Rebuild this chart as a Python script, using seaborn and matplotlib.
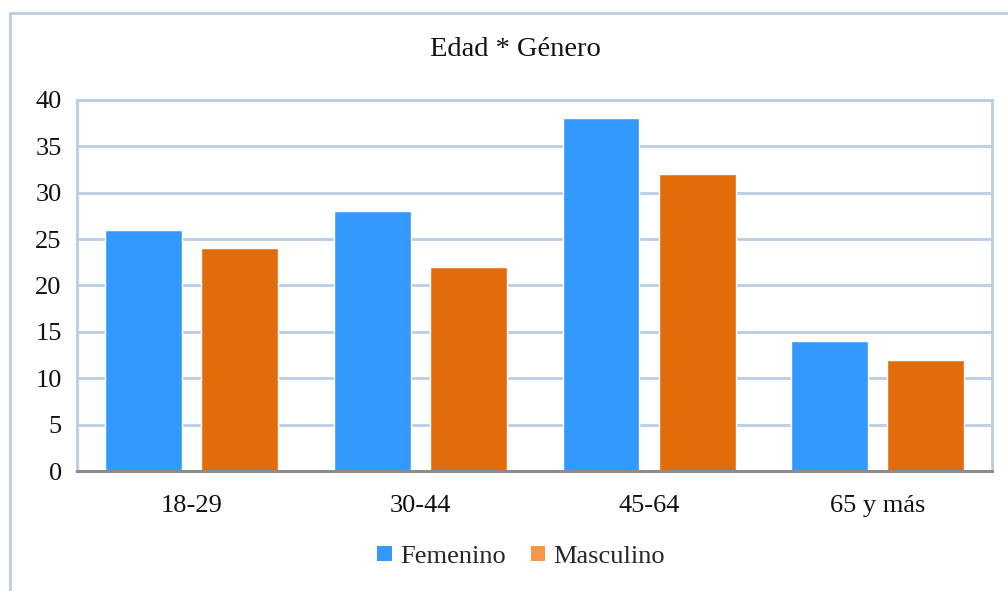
import matplotlib
matplotlib.use("Agg")
import matplotlib.pyplot as plt
import matplotlib.patches as mpatches
import seaborn as sns
import pandas as pd

# Data
grupos_edad = ["18-29", "30-44", "45-64", "65 y más"]
femenino = [26, 28, 38, 14]
masculino = [24, 22, 32, 12]
generos = ["Femenino", "Masculino"]

df = pd.DataFrame({
    "Edad": grupos_edad * 2,
    "Valor": femenino + masculino,
    "Género": [generos[0]] * len(grupos_edad) + [generos[1]] * len(grupos_edad),
})

sns.set_theme(style="white")
plt.rcParams["font.family"] = ["Liberation Serif", "DejaVu Serif"]

azul = "#3399FF"
naranja = "#E36C0A"
naranja_leyenda = "#F79646"
borde = "#B9CDE5"

fig = plt.figure(figsize=(10.08, 5.91), dpi=100)
ax = fig.add_axes([0.0764, 0.203, 0.908, 0.628])

sns.barplot(data=df, x="Edad", y="Valor", hue="Género", order=grupos_edad,
            hue_order=generos, palette=[azul, naranja], width=0.84, gap=0.2,
            saturation=1, legend=False, ax=ax, zorder=3)

ax.set_ylim(0, 40)
ax.set_yticks(range(0, 41, 5))
ax.set_xlim(-0.5, len(grupos_edad) - 0.5)
ax.set_xlabel("")
ax.set_ylabel("")
ax.yaxis.grid(True, color=borde, linewidth=2, zorder=0)
ax.set_axisbelow(True)
ax.tick_params(axis="both", length=0, labelsize=19, colors="#111111")
ax.tick_params(axis="x", pad=17)
ax.tick_params(axis="y", pad=11)

for s in ["left", "top", "right"]:
    ax.spines[s].set_color(borde)
    ax.spines[s].set_linewidth(2)
ax.spines["bottom"].set_color("#8C8C8C")
ax.spines["bottom"].set_linewidth(2.2)
ax.spines["bottom"].set_zorder(4)

fig.text(515 / 1008, 1 - 50 / 591, "Edad * Género", fontsize=20.5,
         color="#111111", ha="center", va="center")

handles = [mpatches.Patch(facecolor=azul, edgecolor="none", label=generos[0]),
           mpatches.Patch(facecolor=naranja_leyenda, edgecolor="none", label=generos[1])]
fig.legend(handles=handles, loc="center", bbox_to_anchor=(0.517, 0.058), ncol=2,
           frameon=False, fontsize=19, handlelength=0.55, handleheight=0.55,
           handletextpad=0.3, columnspacing=0.95)

# Outer chart border
fig.patches.append(mpatches.Rectangle((10 / 1008, -0.05), 1.2, 1 - 13 / 591 + 0.05,
                                      transform=fig.transFigure, fill=False,
                                      edgecolor=borde, linewidth=2))

fig.savefig("out.png", dpi=100)
